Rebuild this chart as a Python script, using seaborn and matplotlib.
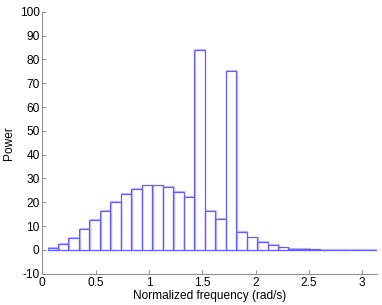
import numpy as np
import pandas as pd
import matplotlib
matplotlib.use("Agg")
import matplotlib.pyplot as plt
import seaborn as sns

# bin index k, bar centred at k*pi/32
bin_index = list(range(1, 33))
power = [0.7, 2.4, 5.2, 8.7, 12.5, 16.5, 20.3, 23.5, 25.7, 27.1,
         27.1, 26.3, 24.5, 22.1, 83.9, 16.5, 12.9, 75.0, 7.6, 5.3,
         3.4, 2.0, 1.1, 0.6, 0.35, 0.2, 0.1, 0.05, 0.02, 0.0, 0.0, 0.0]
x_ticks = [0, 0.5, 1, 1.5, 2, 2.5, 3]
y_ticks = list(range(-10, 101, 10))

step = np.pi / 32
df = pd.DataFrame({"freq": np.array(bin_index) * step, "power": power})

# slightly shifted copy for the faint lavender echo of the outlines
echo = df.assign(freq=df["freq"] + 0.006, power=df["power"] + 0.35)

sns.set_style("ticks")
plt.rcParams['font.family'] = ['Liberation Sans', 'DejaVu Sans']

fig = plt.figure(figsize=(3.82, 3.05), dpi=100)
ax = fig.add_axes([0.1107, 0.1023, 0.8775, 0.8593])

sns.barplot(data=echo, x="freq", y="power", native_scale=True, width=1,
            fill=False, color="#c9b6ff", linewidth=0.9, errorbar=None, ax=ax)
sns.barplot(data=df, x="freq", y="power", native_scale=True, width=1,
            fill=False, color="#6060ff", linewidth=0.85, errorbar=None, ax=ax)

ax.set_xlim(0, np.pi)
ax.set_ylim(-10, 100)
ax.set_xticks(x_ticks)
ax.set_xticklabels([f"{t:g}" for t in x_ticks])
ax.set_yticks(y_ticks)
ax.set_yticklabels([f"{t:g}" for t in y_ticks])
ax.set_xlabel("Normalized frequency (rad/s)", fontsize=8.6, color="black", labelpad=1)
ax.set_ylabel("Power", fontsize=8.6, color="black", labelpad=3)
ax.tick_params(direction="in", length=3, width=0.6, color="#808080",
               labelsize=8.6, labelcolor="black", pad=2)
for side in ["top", "right"]:
    ax.spines[side].set_visible(False)
for side in ["left", "bottom"]:
    ax.spines[side].set_color("#909090")
    ax.spines[side].set_linewidth(0.8)

fig.savefig("out.png", dpi=100)
